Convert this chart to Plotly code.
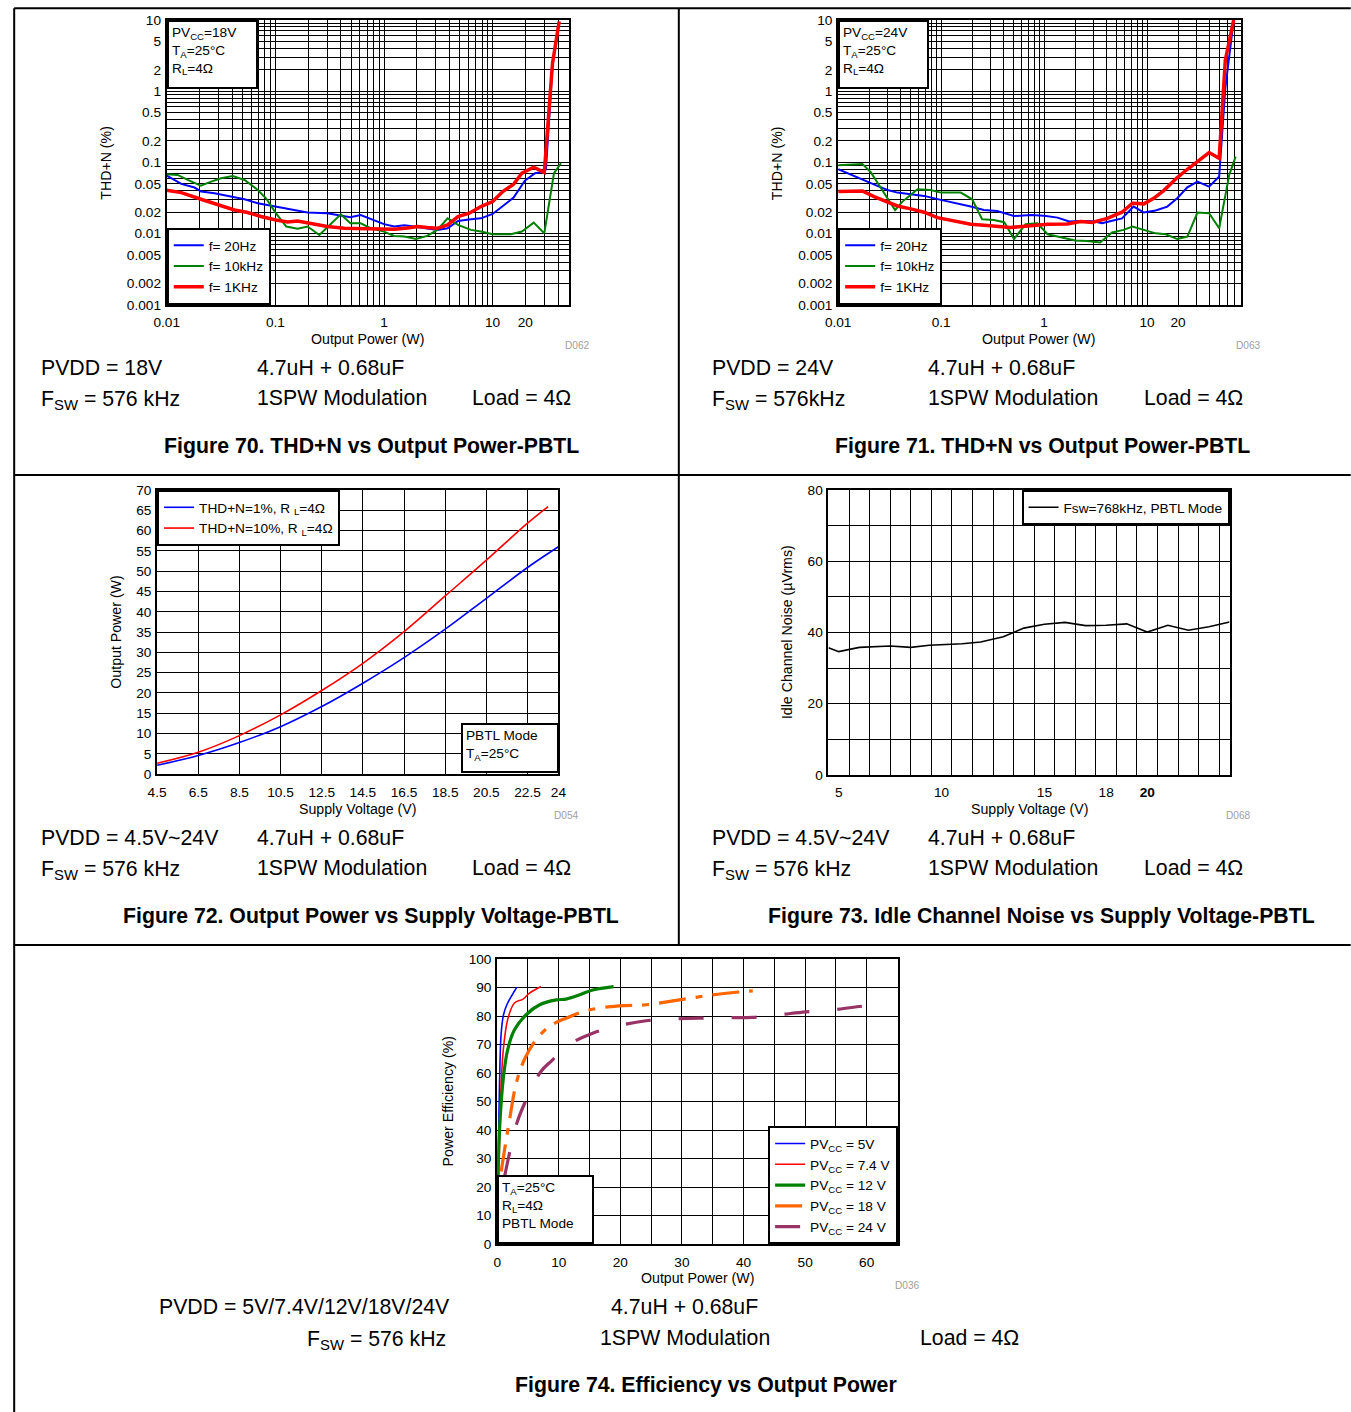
import plotly.graph_objects as go

FONT = "Liberation Sans, Arial, sans-serif"

# ---------------- Figure 70 : THD+N vs Output Power, PVCC = 18 V ----------------
f70_p_20hz = [0.01, 0.0136, 0.018, 0.0207, 0.0275, 0.039, 0.052, 0.0688, 0.098, 0.149, 0.198, 0.30, 0.40,
              0.49, 0.61, 0.81, 1.0, 1.24, 1.54, 1.89, 2.5, 3.1, 3.85, 4.8, 6.3, 7.8, 10, 12.8, 15.6, 19.8,
              24.6, 29.4, 31.0, 35.6, 41]
f70_thd_20hz = [0.0653, 0.0499, 0.0444, 0.039, 0.0369, 0.0331, 0.0304, 0.0267, 0.024, 0.0215, 0.0198, 0.0194,
                0.0177, 0.017, 0.0183, 0.0156, 0.0136, 0.0126, 0.0131, 0.0126, 0.0119, 0.0113, 0.0119, 0.0151,
                0.0159, 0.0164, 0.0189, 0.0253, 0.0321, 0.0556, 0.0705, 0.0743, 0.08, 2.3, 9.5]
f70_p_10k = [0.01, 0.0126, 0.0156, 0.0206, 0.0256, 0.0316, 0.0405, 0.052, 0.0688, 0.082, 0.101, 0.126, 0.16,
             0.198, 0.254, 0.325, 0.40, 0.49, 0.61, 0.76, 1.0, 1.24, 1.54, 1.97, 2.5, 3.1, 3.85, 4.8, 6.3, 7.8,
             10, 14.7, 18.6, 23.9, 29.9, 36.7, 42.6]
f70_thd_10k = [0.0682, 0.0668, 0.0568, 0.0473, 0.0538, 0.06, 0.0646, 0.0568, 0.0411, 0.0314, 0.0194, 0.0126,
               0.0117, 0.0126, 0.0096, 0.014, 0.0187, 0.014, 0.014, 0.0119, 0.0107, 0.0093, 0.0091, 0.0084,
               0.0093, 0.0113, 0.0164, 0.0133, 0.0113, 0.0107, 0.0098, 0.0098, 0.0107, 0.0143, 0.0101, 0.0705,
               0.0973]
f70_p_1k = [0.01, 0.0136, 0.0207, 0.0316, 0.0419, 0.0556, 0.0738, 0.101, 0.13, 0.16, 0.21, 0.30, 0.43, 0.61,
            0.87, 1.24, 1.65, 2.04, 2.5, 3.1, 3.85, 4.8, 6.1, 7.8, 10, 12.4, 15.6, 18.6, 23.9, 29.9, 35.6, 41]
f70_thd_1k = [0.0407, 0.0377, 0.0304, 0.0245, 0.0215, 0.0198, 0.0174, 0.0156, 0.0146, 0.0151, 0.014, 0.0126,
              0.0119, 0.0118, 0.0115, 0.0115, 0.012, 0.0126, 0.0122, 0.0119, 0.0133, 0.0174, 0.0194, 0.024,
              0.0282, 0.039, 0.0494, 0.0705, 0.0855, 0.072, 2.47, 9.5]

# ---------------- Figure 71 : THD+N vs Output Power, PVCC = 24 V ----------------
f71_p_20hz = [0.01, 0.0133, 0.0179, 0.024, 0.0301, 0.0376, 0.0506, 0.0682, 0.0993, 0.144, 0.194, 0.26, 0.35,
              0.51, 0.74, 1.0, 1.35, 1.75, 2.26, 2.93, 3.65, 4.57, 5.7, 7.4, 9.3, 12.1, 15.7, 19.6, 24.6, 30.8,
              40, 50.1, 57.5, 69.3]
f71_thd_20hz = [0.0802, 0.0668, 0.0556, 0.0468, 0.0411, 0.0377, 0.0357, 0.0339, 0.0298, 0.0267, 0.024, 0.0215,
                0.0208, 0.0177, 0.0183, 0.0179, 0.0168, 0.0148, 0.0151, 0.015, 0.014, 0.0152, 0.0164, 0.024,
                0.0198, 0.0211, 0.024, 0.0314, 0.0448, 0.0538, 0.0458, 0.0633, 1.1, 10]
f71_p_10k = [0.01, 0.0133, 0.0172, 0.0207, 0.0269, 0.0357, 0.0421, 0.0589, 0.079, 0.0993, 0.155, 0.20, 0.25,
             0.325, 0.41, 0.51, 0.66, 0.86, 1.08, 1.45, 2.0, 2.6, 3.5, 4.57, 5.9, 7.2, 9.3, 12.1, 15.2, 19.6,
             24.6, 30.8, 40, 50.1, 62.7, 72.4]
f71_thd_10k = [0.0912, 0.093, 0.0953, 0.0728, 0.0411, 0.0215, 0.0282, 0.042, 0.0411, 0.0377, 0.0377, 0.0304,
               0.0159, 0.0156, 0.0145, 0.0084, 0.0136, 0.014, 0.0098, 0.0088, 0.008, 0.0079, 0.0075, 0.0104,
               0.0113, 0.0126, 0.0113, 0.0101, 0.0098, 0.0084, 0.0091, 0.0198, 0.0194, 0.0119, 0.0668, 0.1208]
f71_p_1k = [0.01, 0.0133, 0.0172, 0.0223, 0.0301, 0.0376, 0.0506, 0.0682, 0.0921, 0.133, 0.194, 0.30, 0.47,
            0.74, 1.08, 1.68, 2.26, 2.93, 4.1, 5.7, 7.2, 9.3, 11.6, 14.5, 19.6, 24.6, 30.8, 40, 50.1, 57.5, 69.3]
f71_thd_1k = [0.039, 0.039, 0.0398, 0.0331, 0.0276, 0.0245, 0.0223, 0.02, 0.0168, 0.0151, 0.0136, 0.0129,
              0.0122, 0.0129, 0.0136, 0.0137, 0.0148, 0.0144, 0.0164, 0.02, 0.0267, 0.0262, 0.0314, 0.0403,
              0.0613, 0.0802, 0.1028, 0.1374, 0.1143, 2.75, 10]

# ---------------- Figure 72 : Output Power vs Supply Voltage ----------------
f72_v_1pct = [4.5, 6.5, 8.5, 10.5, 12.5, 14.5, 16.5, 18.5, 20.5, 22.5, 24]
f72_p_1pct = [2.2, 4.6, 7.8, 11.7, 16.65, 22.4, 28.7, 35.7, 43.3, 50.9, 56.0]
f72_v_10pct = [4.5, 6.5, 8.5, 10.5, 12.5, 14.5, 16.5, 18.5, 20.5, 22.5, 23.5]
f72_p_10pct = [2.7, 5.4, 9.5, 14.6, 20.6, 27.3, 35.1, 43.9, 52.7, 61.8, 65.9]
f72_xticks = [4.5, 6.5, 8.5, 10.5, 12.5, 14.5, 16.5, 18.5, 20.5, 22.5, 24]

# ---------------- Figure 73 : Idle Channel Noise vs Supply Voltage ----------------
f73_v = [4.5, 5, 6, 7.5, 8.5, 9.4, 11, 11.9, 13, 14, 15, 16, 17, 18, 19, 20, 21, 22, 23, 24]
f73_noise = [35.7, 34.6, 35.8, 36.2, 35.8, 36.4, 36.8, 37.3, 38.8, 41.2, 42.3, 42.8, 41.9, 42.0, 42.4, 40.1,
             42.0, 40.6, 41.6, 42.9]
f73_xticks = [5, 10, 15, 18, 20]
f73_xtext = ["5", "10", "15", "18", "<b>20</b>"]

# ---------------- Figure 74 : Efficiency vs Output Power ----------------
f74_p_5v = [0.1, 0.38, 0.65, 1.03, 1.57, 3.2]
f74_e_5v = [23.0, 56.5, 74, 80.5, 84, 90.2]
f74_p_74v = [0.27, 0.65, 1.03, 1.73, 2.8, 4.2, 5.2, 7.1]
f74_e_74v = [24.0, 56.5, 69, 79, 84.6, 86, 88, 90.4]
f74_p_12v = [0.1, 0.5, 1.03, 1.7, 2.8, 4.7, 6.9, 9.6, 11.2, 13.4, 15.5, 18.9]
f74_e_12v = [23.7, 44.8, 58.8, 68.2, 75.2, 80.5, 84, 85.7, 86, 87.5, 89.2, 90.4]
f74_p_18v = [0.65, 2, 3.1, 4.4, 6.3, 8.5, 11.2, 15, 19.8, 24.2, 29.6, 35, 41.5]
f74_e_18v = [25.5, 43.6, 56.5, 64.7, 71.7, 76.4, 79.3, 82.2, 83.6, 84, 85.7, 87.5, 88.9]
f74_p_24v = [1.2, 2, 3.2, 4.7, 7.1, 9, 10.9, 15.5, 19.6, 24.2, 28.5, 32.8, 37.1, 41.5, 45.8, 50.1, 54.4, 58.8,
             63.1]
f74_e_24v = [23.7, 31.9, 42.5, 50.6, 60.6, 64.7, 69.1, 74, 76.6, 78.4, 79, 79.3, 79.5, 79.6, 80.5, 81.5, 82.2,
             83.4, 84]

# log-axis tick labels
thd_y_vals = [10, 5, 2, 1, 0.5, 0.2, 0.1, 0.05, 0.02, 0.01, 0.005, 0.002, 0.001]
thd_y_text = ["10", "5", "2", "1", "0.5", "0.2", "0.1", "0.05", "0.02", "0.01", "0.005", "0.002", "0.001"]
thd_x_vals = [0.01, 0.1, 1, 10, 20]
thd_x_text = ["0.01", "0.1", "1", "10", "20"]

# ---------------- page geometry (positions given in target-image pixels) ----------------
SX, OX = 0.9854, 13.1     # observed capture mapping: image = OX + SX * page
SY, OY = 0.9895, 7.06
W, H = 1358, 1420          # figure size in page pixels
FS = 1 / ((SX + SY) / 2)   # font compensation


def X(px):
    return ((px - OX) / SX) / W


def Y(py):
    return 1 - ((py - OY) / SY) / H


def f(sz):
    return round(sz * FS, 2)


TICKFONT = dict(family=FONT, size=f(13.5), color="black")
LOGMINOR = dict(dtick="D1", showgrid=True, gridcolor="black", gridwidth=1, ticks="")


def axis(dom, **kw):
    d = dict(domain=dom, showline=True, linewidth=2, linecolor="black", mirror=True, ticks="",
             showgrid=True, gridcolor="black", gridwidth=1, zeroline=False, tickfont=TICKFONT)
    d.update(kw)
    return d


def xax(x0, x1, anchor, **kw):
    return axis([X(x0), X(x1)], anchor=anchor, ticklabelstandoff=4, **kw)


def yax(y_bottom, y_top, anchor, **kw):
    return axis([Y(y_bottom), Y(y_top)], anchor=anchor, ticklabelstandoff=1, **kw)


fig = go.Figure()

RED, BLUE, GREEN = "#ff0000", "#0000ff", "#008000"

# Fig 70 traces
fig.add_trace(go.Scatter(x=f70_p_20hz, y=f70_thd_20hz, mode="lines", name="f= 20Hz",
                         line=dict(color=BLUE, width=2), xaxis="x", yaxis="y", legend="legend"))
fig.add_trace(go.Scatter(x=f70_p_10k, y=f70_thd_10k, mode="lines", name="f= 10kHz",
                         line=dict(color=GREEN, width=2), xaxis="x", yaxis="y", legend="legend"))
fig.add_trace(go.Scatter(x=f70_p_1k, y=f70_thd_1k, mode="lines", name="f= 1KHz",
                         line=dict(color=RED, width=3.5), xaxis="x", yaxis="y", legend="legend"))
# Fig 71 traces
fig.add_trace(go.Scatter(x=f71_p_20hz, y=f71_thd_20hz, mode="lines", name="f= 20Hz",
                         line=dict(color=BLUE, width=2), xaxis="x2", yaxis="y2", legend="legend2"))
fig.add_trace(go.Scatter(x=f71_p_10k, y=f71_thd_10k, mode="lines", name="f= 10kHz",
                         line=dict(color=GREEN, width=2), xaxis="x2", yaxis="y2", legend="legend2"))
fig.add_trace(go.Scatter(x=f71_p_1k, y=f71_thd_1k, mode="lines", name="f= 1KHz",
                         line=dict(color=RED, width=3.5), xaxis="x2", yaxis="y2", legend="legend2"))
# Fig 72 traces
fig.add_trace(go.Scatter(x=f72_v_1pct, y=f72_p_1pct, mode="lines", name="THD+N=1%, R <sub>L</sub>=4Ω",
                         line=dict(color=BLUE, width=1.6, shape="spline"), xaxis="x3", yaxis="y3",
                         legend="legend3"))
fig.add_trace(go.Scatter(x=f72_v_10pct, y=f72_p_10pct, mode="lines", name="THD+N=10%, R <sub>L</sub>=4Ω",
                         line=dict(color=RED, width=1.6, shape="spline"), xaxis="x3", yaxis="y3",
                         legend="legend3"))
# Fig 73 trace
fig.add_trace(go.Scatter(x=f73_v, y=f73_noise, mode="lines", name="Fsw=768kHz, PBTL Mode",
                         line=dict(color="black", width=1.6), xaxis="x4", yaxis="y4", legend="legend4"))
# Fig 74 traces
fig.add_trace(go.Scatter(x=f74_p_5v, y=f74_e_5v, mode="lines", name="PV<sub>CC</sub> = 5V",
                         line=dict(color=BLUE, width=1.6, shape="spline"), xaxis="x5", yaxis="y5",
                         legend="legend5"))
fig.add_trace(go.Scatter(x=f74_p_74v, y=f74_e_74v, mode="lines", name="PV<sub>CC</sub> = 7.4 V",
                         line=dict(color=RED, width=1.6, shape="spline"), xaxis="x5", yaxis="y5",
                         legend="legend5"))
fig.add_trace(go.Scatter(x=f74_p_12v, y=f74_e_12v, mode="lines", name="PV<sub>CC</sub> = 12 V",
                         line=dict(color=GREEN, width=3.2, shape="spline"), xaxis="x5", yaxis="y5",
                         legend="legend5"))
fig.add_trace(go.Scatter(x=f74_p_18v, y=f74_e_18v, mode="lines", name="PV<sub>CC</sub> = 18 V",
                         line=dict(color="#ff6600", width=3.2, dash="27px,10px,7px,10px", shape="spline"),
                         xaxis="x5", yaxis="y5", legend="legend5"))
fig.add_trace(go.Scatter(x=f74_p_24v, y=f74_e_24v, mode="lines", name="PV<sub>CC</sub> = 24 V",
                         line=dict(color="#993366", width=3.2, dash="25px,28px", shape="spline"),
                         xaxis="x5", yaxis="y5", legend="legend5"))

fig.update_layout(
    xaxis=xax(167, 570, "y", type="log", range=[-2, 1.707], tickmode="array", tickvals=thd_x_vals,
              ticktext=thd_x_text, minor=LOGMINOR),
    yaxis=yax(305, 20, "x", type="log", range=[-3, 1], tickmode="array", tickvals=thd_y_vals,
              ticktext=thd_y_text, minor=LOGMINOR),
    xaxis2=xax(839, 1242, "y2", type="log", range=[-2, 1.91], tickmode="array", tickvals=thd_x_vals,
               ticktext=thd_x_text, minor=LOGMINOR),
    yaxis2=yax(305, 20, "x2", type="log", range=[-3, 1], tickmode="array", tickvals=thd_y_vals,
               ticktext=thd_y_text, minor=LOGMINOR),
    xaxis3=xax(157.3, 559, "y3", range=[4.5, 24], tickmode="array", tickvals=f72_xticks,
               ticktext=[f"{v:g}" for v in f72_xticks]),
    yaxis3=yax(774.3, 490, "x3", range=[0, 70], dtick=5, tick0=0),
    xaxis4=xax(829.3, 1230.7, "y4", range=[4.5, 24], tickmode="array", tickvals=f73_xticks,
               ticktext=f73_xtext, showgrid=False,
               minor=dict(tick0=5.5, dtick=1, showgrid=True, gridcolor="black", gridwidth=1)),
    yaxis4=yax(775, 490, "x4", range=[0, 80], dtick=20, tick0=0,
               minor=dict(tick0=0, dtick=10, showgrid=True, gridcolor="black", gridwidth=1)),
    xaxis5=xax(497.7, 899, "y5", range=[0, 65.1], dtick=10, tick0=0,
               minor=dict(tick0=0, dtick=5, showgrid=True, gridcolor="black", gridwidth=1)),
    yaxis5=yax(1244.3, 959.3, "x5", range=[0, 100], dtick=10, tick0=0),
)

LEGFONT = dict(family=FONT, size=f(13.5), color="black")


def legend(x, y, xa, ya):
    return dict(x=x, y=y, xanchor=xa, yanchor=ya, xref="paper", yref="paper", bgcolor="white",
                bordercolor="black", borderwidth=2, font=LEGFONT, tracegroupgap=0, itemwidth=30)


fig.update_layout(
    legend=legend(X(167), Y(305), "left", "bottom"),
    legend2=legend(X(839), Y(305), "left", "bottom"),
    legend3=legend(X(157.3), Y(490), "left", "top"),
    legend4=legend(X(1230.7), Y(490), "right", "top"),
    legend5=legend(X(899), Y(1244.3), "right", "bottom"),
)

annotations = []


def txt(x, y, s, size=21, bold=False, xanchor="left", color="black"):
    annotations.append(dict(x=X(x), y=Y(y), xref="paper", yref="paper", text=f"<b>{s}</b>" if bold else s,
                            showarrow=False, xanchor=xanchor, yanchor="middle",
                            font=dict(family=FONT, size=f(size), color=color)))


def box(x0, y0, w, h, s):
    annotations.append(dict(x=X(x0), y=Y(y0), xref="paper", yref="paper", text=s, showarrow=False,
                            xanchor="left", yanchor="top", align="left", valign="top",
                            width=round(w / SX), height=round(h / SY),
                            bgcolor="white", bordercolor="black", borderwidth=2, borderpad=3,
                            font=dict(family=FONT, size=f(13.5), color="black")))


def vtitle(x, y, s):
    annotations.append(dict(x=X(x), y=Y(y), xref="paper", yref="paper", text=s, showarrow=False,
                            textangle=-90, xanchor="center", yanchor="middle",
                            font=dict(family=FONT, size=f(14), color="black")))


# info boxes inside plots
box(167, 20, 80, 58, "PV<sub>CC</sub>=18V<br>T<sub>A</sub>=25°C<br>R<sub>L</sub>=4Ω")
box(839, 20, 80, 58, "PV<sub>CC</sub>=24V<br>T<sub>A</sub>=25°C<br>R<sub>L</sub>=4Ω")
box(461.7, 723, 87, 40, "PBTL Mode<br>T<sub>A</sub>=25°C")
box(497.7, 1175, 86, 58, "T<sub>A</sub>=25°C<br>R<sub>L</sub>=4Ω<br>PBTL Mode")

# axis titles
txt(368, 339, "Output Power (W)", size=14, xanchor="center")
vtitle(106, 163, "THD+N (%)")
txt(1040, 339, "Output Power (W)", size=14, xanchor="center")
vtitle(778, 163, "THD+N (%)")
txt(358, 809, "Supply Voltage (V)", size=14, xanchor="center")
vtitle(116, 632, "Output Power (W)")
txt(1030, 809, "Supply Voltage (V)", size=14, xanchor="center")
vtitle(788, 632, "Idle Channel Noise (µVrms)")
txt(698, 1278, "Output Power (W)", size=14, xanchor="center")
vtitle(448, 1102, "Power Efficiency (%)")

# small figure ids
for (x, y, s) in [(578, 346, "D062"), (1250, 346, "D063"), (567, 816, "D054"), (1240, 816, "D068"),
                  (908, 1286, "D036")]:
    txt(x, y, s, size=10, xanchor="center", color="#a0a0a0")

# condition texts
for dx, pv, fsw in [(0, "PVDD = 18V", "F<sub>SW</sub> = 576 kHz"), (672, "PVDD = 24V", "F<sub>SW</sub> = 576kHz")]:
    txt(39 + dx, 368, pv)
    txt(255 + dx, 368, "4.7uH + 0.68uF")
    txt(39 + dx, 400, fsw)
    txt(255 + dx, 398, "1SPW Modulation")
    txt(471 + dx, 398, "Load = 4Ω")
for dx in [0, 672]:
    txt(39 + dx, 838, "PVDD = 4.5V~24V")
    txt(255 + dx, 838, "4.7uH + 0.68uF")
    txt(39 + dx, 870, "F<sub>SW</sub> = 576 kHz")
    txt(255 + dx, 868, "1SPW Modulation")
    txt(471 + dx, 868, "Load = 4Ω")
txt(157, 1307, "PVDD = 5V/7.4V/12V/18V/24V")
txt(610, 1307, "4.7uH + 0.68uF")
txt(448, 1340, "F<sub>SW</sub> = 576 kHz", xanchor="right")
txt(599, 1338, "1SPW Modulation")
txt(919, 1338, "Load = 4Ω")

txt(372, 446, "Figure 70. THD+N vs Output Power-PBTL", bold=True, xanchor="center")
txt(1044, 446, "Figure 71. THD+N vs Output Power-PBTL", bold=True, xanchor="center")
txt(371, 916, "Figure 72. Output Power vs Supply Voltage-PBTL", bold=True, xanchor="center")
txt(1043, 916, "Figure 73. Idle Channel Noise vs Supply Voltage-PBTL", bold=True, xanchor="center")
txt(707, 1385, "Figure 74. Efficiency vs Output Power", bold=True, xanchor="center")

# page frame (table rules); outer edges kept just inside the drawable page
LEFT = max(X(8), 1.2 / W)
TOP = min(Y(6), 1 - 1.2 / H)
shapes = [
    dict(type="line", xref="paper", yref="paper", x0=LEFT, y0=TOP, x1=X(1352), y1=TOP),
    dict(type="line", xref="paper", yref="paper", x0=LEFT, y0=TOP, x1=LEFT, y1=Y(1413)),
    dict(type="line", xref="paper", yref="paper", x0=X(679.5), y0=TOP, x1=X(679.5), y1=Y(945)),
    dict(type="line", xref="paper", yref="paper", x0=LEFT, y0=Y(475), x1=X(1352), y1=Y(475)),
    dict(type="line", xref="paper", yref="paper", x0=LEFT, y0=Y(945), x1=X(1352), y1=Y(945)),
]
for s in shapes:
    s["line"] = dict(color="black", width=2)

fig.update_layout(width=W, height=H, margin=dict(l=0, r=0, t=0, b=0), paper_bgcolor="white",
                  plot_bgcolor="white", annotations=annotations, shapes=shapes, showlegend=True,
                  font=dict(family=FONT, color="black"))

POST = (
    "var gd=document.getElementById('{plot_id}');"
    "gd.style.position='absolute';gd.style.left='0px';gd.style.top='0px';"
    "document.documentElement.style.margin='0';document.documentElement.style.padding='0';"
    "document.body.style.margin='0';document.body.style.padding='0';"
    "document.documentElement.style.overflow='hidden';document.body.style.overflow='hidden';"
)

fig.write_html("out.html", config={"displayModeBar": False, "responsive": False}, post_script=POST)
